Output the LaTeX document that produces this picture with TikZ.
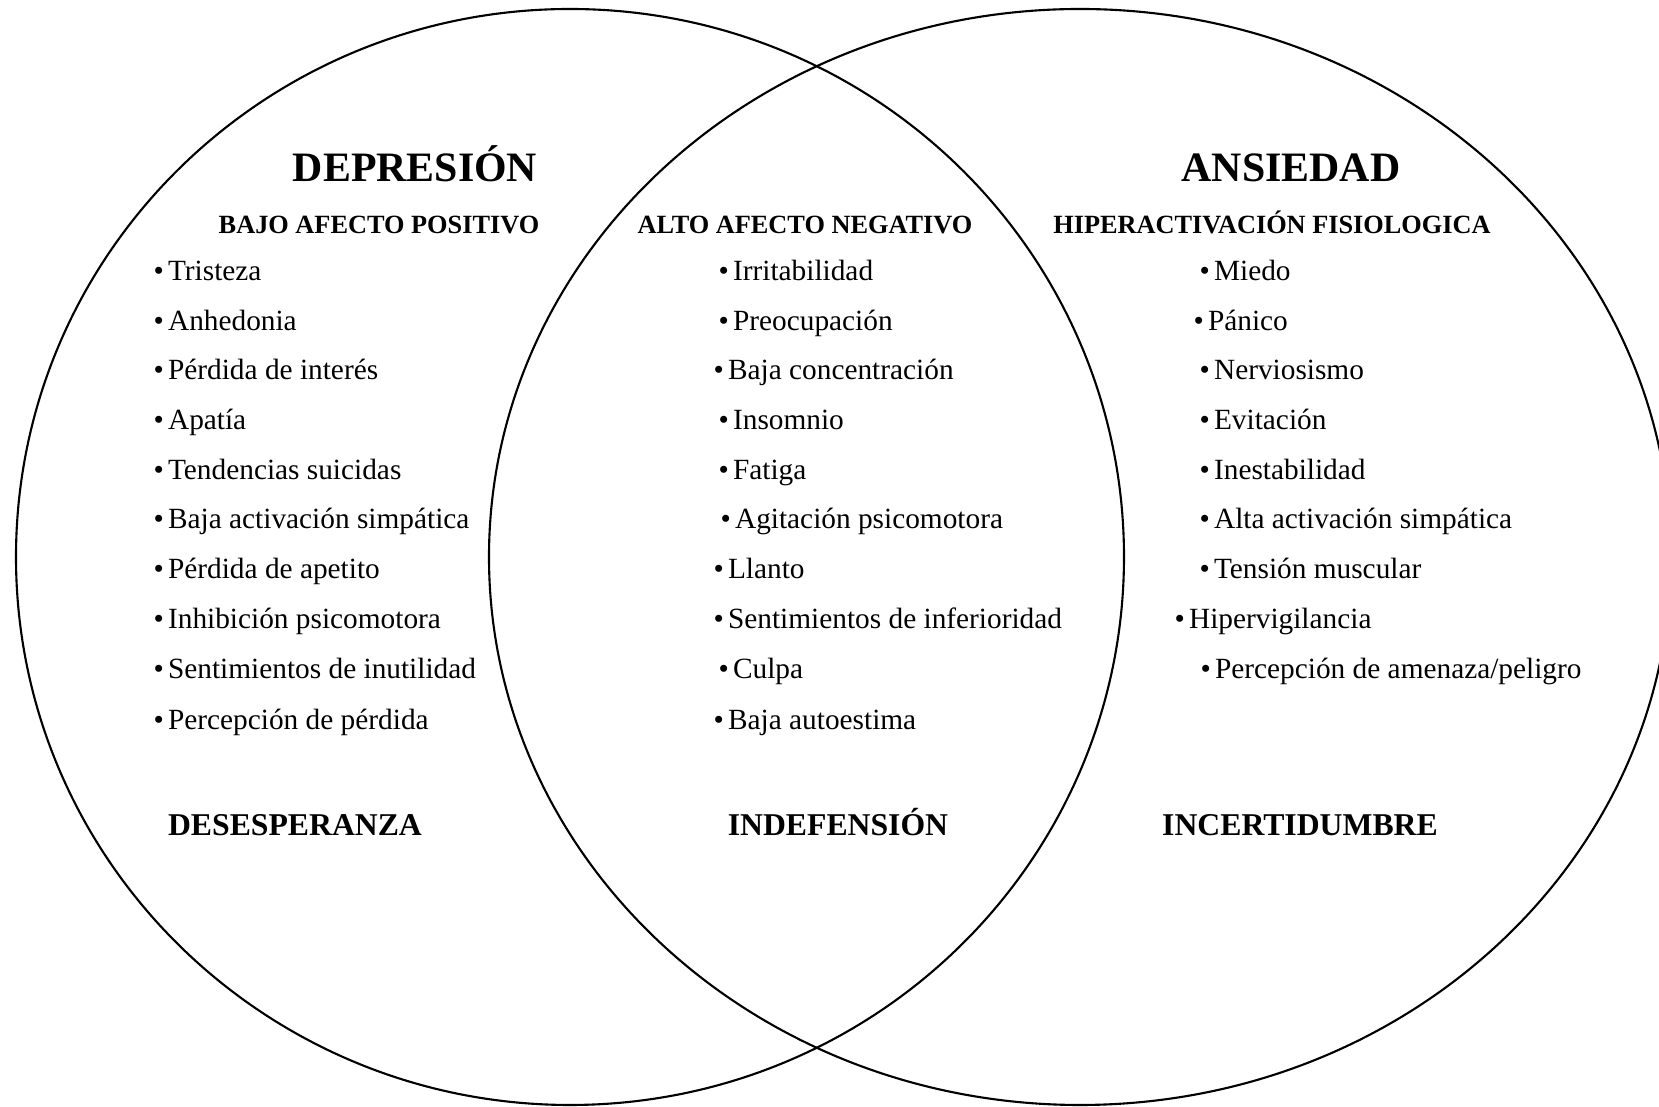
\documentclass[tikz,border=0pt]{standalone}
\usepackage{fontspec}
\setmainfont{Liberation Serif}
\newcommand{\bul}{\textbullet\hspace{0.14em}}

\begin{document}
\begin{tikzpicture}[x=0.01cm,y=-0.01cm,
    item/.style={anchor=mid west,inner sep=0pt,font=\fontsize{8.34}{10}\selectfont},
    title/.style={inner sep=0pt,text height=0.66em,text depth=0pt,font=\fontsize{11.9}{14}\selectfont\bfseries},
    subhead/.style={inner sep=0pt,text height=0.66em,text depth=0pt,font=\fontsize{7.48}{9}\selectfont\bfseries},
    bottom/.style={inner sep=0pt,text height=0.66em,text depth=0pt,font=\fontsize{9.02}{11}\selectfont\bfseries}]
        \useasboundingbox (0,0) rectangle (1659,1107);

        \draw[line width=0.6pt] (570,557) ellipse [x radius=554, y radius=548];
        \draw[line width=0.6pt] (1080,557) ellipse [x radius=591, y radius=548];

        \node [title] (dep) at (415,170) {DEPRESIÓN};
        \node [title] (ans) at (1291,170) {ANSIEDAD};

        \node [subhead] (bap) at (379,222) {BAJO AFECTO POSITIVO};
        \node [subhead] (aan) at (805,222) {ALTO AFECTO NEGATIVO};
        \node [subhead] (hf) at (1272,222) {HIPERACTIVACIÓN FISIOLOGICA};

        % depresion
        \node [item] (d1) at (153,272) {\bul Tristeza};
        \node [item] (d2) at (153,322) {\bul Anhedonia};
        \node [item] (d3) at (153,371) {\bul Pérdida de interés};
        \node [item] (d4) at (153,421) {\bul Apatía};
        \node [item] (d5) at (153,471) {\bul Tendencias suicidas};
        \node [item] (d6) at (153,520) {\bul Baja activación simpática};
        \node [item] (d7) at (153,570) {\bul Pérdida de apetito};
        \node [item] (d8) at (153,620) {\bul Inhibición psicomotora};
        \node [item] (d9) at (153,670) {\bul Sentimientos de inutilidad};
        \node [item] (d10) at (153,721) {\bul Percepción de pérdida};

        % comun
        \node [item] (c1) at (718,272) {\bul Irritabilidad};
        \node [item] (c2) at (718,322) {\bul Preocupación};
        \node [item] (c3) at (713,371) {\bul Baja concentración};
        \node [item] (c4) at (718,421) {\bul Insomnio};
        \node [item] (c5) at (718,471) {\bul Fatiga};
        \node [item] (c6) at (720,520) {\bul Agitación psicomotora};
        \node [item] (c7) at (713,570) {\bul Llanto};
        \node [item] (c8) at (713,620) {\bul Sentimientos de inferioridad};
        \node [item] (c9) at (718,670) {\bul Culpa};
        \node [item] (c10) at (713,721) {\bul Baja autoestima};

        % ansiedad
        \node [item] (a1) at (1199,272) {\bul Miedo};
        \node [item] (a2) at (1193,322) {\bul Pánico};
        \node [item] (a3) at (1199,371) {\bul Nerviosismo};
        \node [item] (a4) at (1199,421) {\bul Evitación};
        \node [item] (a5) at (1199,471) {\bul Inestabilidad};
        \node [item] (a6) at (1199,520) {\bul Alta activación simpática};
        \node [item] (a7) at (1199,570) {\bul Tensión muscular};
        \node [item] (a8) at (1174,620) {\bul Hipervigilancia};
        \node [item] (a9) at (1200,670) {\bul Percepción de amenaza/peligro};

        \node [bottom] (des) at (295,824) {DESESPERANZA};
        \node [bottom] (ind) at (838,824) {INDEFENSIÓN};
        \node [bottom] (inc) at (1300,824) {INCERTIDUMBRE};
      \end{tikzpicture}
\end{document}
